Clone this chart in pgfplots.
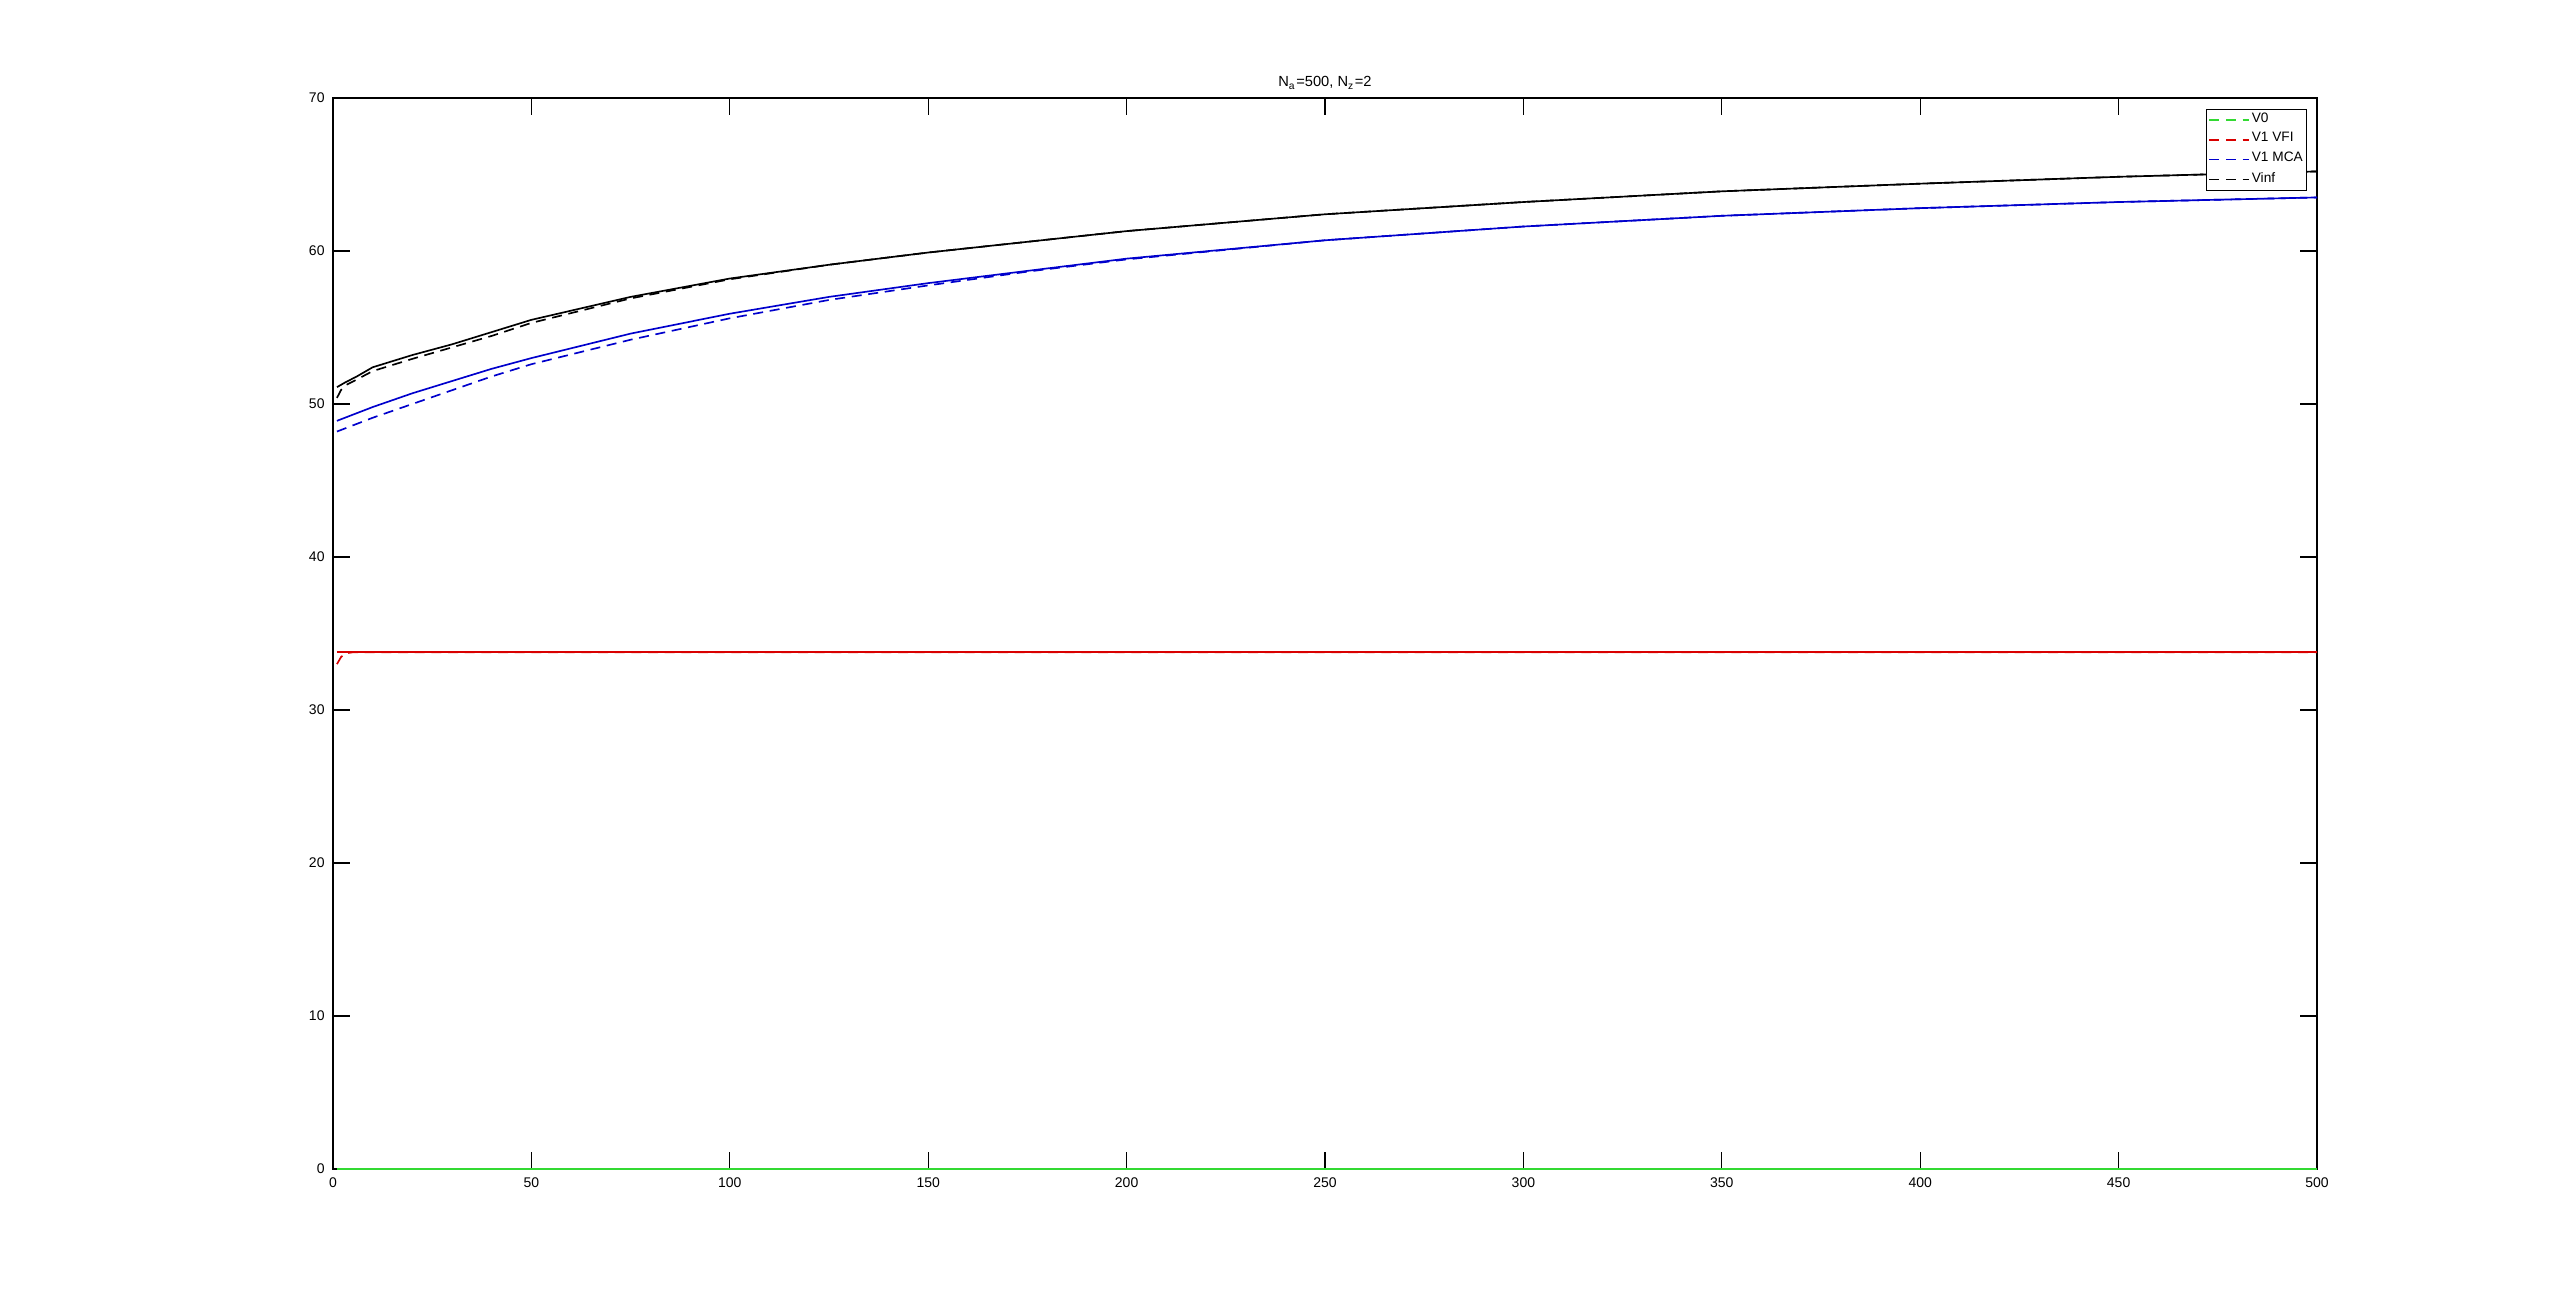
\documentclass[border=0pt]{standalone}
\usepackage{pgfplots}
\pgfplotsset{compat=1.18}
\usepackage{fontspec}
\setmainfont{Liberation Sans}
\definecolor{mgreen}{rgb}{0.2,0.85,0.2}
\definecolor{mred}{rgb}{0.85,0,0}
\definecolor{mblue}{rgb}{0,0,0.8}
\begin{document}
\begin{tikzpicture}
\path[use as bounding box] (-99.9pt,-42.9pt) rectangle (668.1pt,350.7pt);
\begin{axis}[
  at={(0,0)}, anchor=south west,
  scale only axis, width=595.2pt, height=321.3pt,
  xmin=0, xmax=500, ymin=0, ymax=70,
  xtick={0,50,...,500}, ytick={0,10,...,70},
  tick align=inside, major tick length=5pt,
  axis line style={line width=0.4pt}, tick style={line width=0.4pt,black},
  font=\fontsize{4.2}{5}\selectfont,
  /pgf/number format/assume math mode=true,
  xticklabel style={yshift=1pt},
  yticklabel style={xshift=1pt},
  title={N\textsubscript{a}=500, N\textsubscript{z}=2},
  title style={yshift=-7pt,font=\fontsize{4.4}{5}\selectfont},
  legend style={at={(0.995,0.99)}, anchor=north east, draw=black, line width=0.4pt,
    font=\fontsize{4.1}{4.8}\selectfont, inner xsep=0.6pt, inner ysep=0.6pt, row sep=0.8pt,
    nodes={inner xsep=0.5pt, inner ysep=0.4pt}, cells={anchor=west}},
  legend image code/.code={\draw[#1] (0pt,0pt) -- (12pt,0pt);},
  every axis plot/.append style={line width=0.5pt},
]
% dashed series (in legend)
\addplot[mgreen, dash pattern=on 3pt off 2pt] coordinates {(1,0) (500,0)};
\addlegendentry{V0}
\addplot[mred, dash pattern=on 3pt off 2pt] coordinates {(1,33.0) (2,33.45) (3,33.7) (5,33.77) (500,33.77)};
\addlegendentry{V1 VFI}
\addplot[mblue, dash pattern=on 3pt off 2pt] coordinates {
(1,48.2) (10,49.1) (20,50.0) (30,50.9) (40,51.8) (50,52.6) (75,54.2) (100,55.6) (125,56.8) (150,57.75) (175,58.65) (200,59.45) (250,60.7) (300,61.6) (350,62.3) (400,62.8) (450,63.2) (500,63.5)};
\addlegendentry{V1 MCA}
\addplot[black, dash pattern=on 3pt off 2pt] coordinates {
(1,50.4) (2,50.9) (3,51.2) (6,51.6) (10,52.15) (20,52.95) (30,53.7) (40,54.45) (50,55.3) (75,56.9) (100,58.15) (125,59.1) (150,59.9) (175,60.6) (200,61.3) (250,62.4) (300,63.2) (350,63.9) (400,64.4) (450,64.85) (500,65.2)};
\addlegendentry{Vinf}
% solid series
\addplot[mgreen, forget plot] coordinates {(1,0) (500,0)};
\addplot[mred, forget plot] coordinates {(1,33.77) (500,33.77)};
\addplot[mblue, forget plot] coordinates {
(1,48.9) (10,49.8) (20,50.7) (30,51.5) (40,52.3) (50,53.0) (75,54.6) (100,55.9) (125,57.0) (150,57.9) (175,58.7) (200,59.5) (250,60.7) (300,61.6) (350,62.3) (400,62.8) (450,63.2) (500,63.5)};
\addplot[black, forget plot] coordinates {
(1,51.1) (3,51.4) (6,51.8) (10,52.4) (20,53.2) (30,53.9) (40,54.7) (50,55.5) (75,57.0) (100,58.2) (125,59.1) (150,59.9) (175,60.6) (200,61.3) (250,62.4) (300,63.2) (350,63.9) (400,64.4) (450,64.85) (500,65.2)};
\end{axis}
\end{tikzpicture}
\end{document}
